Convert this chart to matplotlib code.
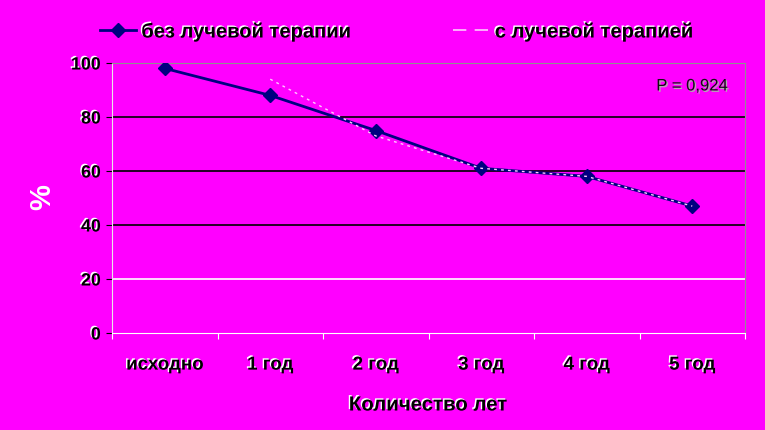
import matplotlib
matplotlib.use("Agg")
import matplotlib.pyplot as plt
import matplotlib.patheffects as pe
from matplotlib.lines import Line2D

# данные
categories = ["исходно", "1 год", "2 год", "3 год", "4 год", "5 год"]
bez_luchevoy = [98, 88, 75, 61, 58, 47]
s_luchevoy = [float("nan"), 94, 73, 61, 58, 47]
y_ticks = [0, 20, 40, 60, 80, 100]

fon = "#FF00FF"
sinii = "#000080"
shadow = [pe.withSimplePatchShadow(offset=(-1, 1), shadow_rgbFace="white", alpha=1)]

plt.rcParams["font.family"] = ["Liberation Sans", "DejaVu Sans"]

fig = plt.figure(figsize=(7.65, 4.31), dpi=100, facecolor=fon)
ax = fig.add_axes([112 / 765, 97 / 431, 633 / 765, 270 / 431])
ax.set_facecolor(fon)

x = list(range(len(categories)))

# линии сетки: 80, 60, 40 черные, 20 белая
for v in y_ticks[1:-1]:
    ax.axhline(v, color="black" if v >= 40 else "white", lw=1.2, zorder=1)

ax.plot(x, bez_luchevoy, color=sinii, lw=2, marker="D", ms=7,
        markeredgecolor=sinii, zorder=3)
ax.plot(x, s_luchevoy, color="#FFC8FF", lw=1, dashes=(2, 3), zorder=4)

ax.set_xlim(-0.5, len(categories) - 0.5)
ax.set_ylim(0, 100)
ax.set_yticks(y_ticks)
ax.set_xticks([i - 0.5 for i in range(len(categories) + 1)], minor=False)
ax.set_xticklabels([])
ax.set_xticks(x, minor=True)
ax.set_xticklabels(categories, minor=True, fontsize=13.5, fontweight="bold",
                   path_effects=shadow)
ax.tick_params(axis="x", which="minor", length=0, pad=17)
ax.tick_params(axis="x", which="major", length=4, color="white", direction="out")
ax.tick_params(axis="y", length=4, color="black", direction="out", pad=4)
for t in ax.get_yticklabels():
    t.set_fontsize(12.8)
    t.set_fontweight("bold")
    t.set_path_effects(shadow)

for s in ["top", "right"]:
    ax.spines[s].set_color("#909090")
ax.spines["left"].set_color("#E8E8E8")
ax.spines["bottom"].set_color("white")

ax.text(0.973, 0.915, "P = 0,924", transform=ax.transAxes, ha="right", va="center",
        fontsize=12, color="#101010",
        path_effects=[pe.withSimplePatchShadow(offset=(1, -1), shadow_rgbFace="#B0B0B0", alpha=1)])

fig.text(42 / 765, 1 - 197 / 431, "%", rotation=90, ha="center", va="center",
         fontsize=21, fontweight="bold", color="white")
fig.text(428 / 765, 1 - 406 / 431, "Количество лет", ha="center", va="center",
         fontsize=14.7, fontweight="bold", path_effects=shadow)

handles = [
    Line2D([], [], color=sinii, lw=2, marker="D", ms=7),
    Line2D([], [], color="#FFC8FF", lw=1.2, dashes=(8, 5)),
]
leg = fig.legend(handles, ["без лучевой терапии", "с лучевой терапией"],
                 loc="center left", bbox_to_anchor=(100 / 765, 1 - 33 / 431),
                 ncol=2, frameon=False, handlelength=1.8, handletextpad=0.25,
                 columnspacing=5.1, prop={"size": 14.5, "weight": "bold"},
                 borderaxespad=0, borderpad=0)
for t in leg.get_texts():
    t.set_path_effects(shadow)

fig.savefig("out.png", dpi=100, facecolor=fon)
